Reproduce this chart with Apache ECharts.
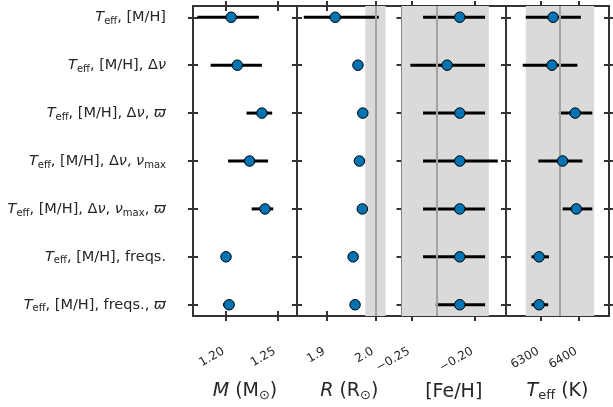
<!DOCTYPE html>
<html><head><meta charset="utf-8">
<script src="https://cdn.jsdelivr.net/npm/echarts@6/dist/echarts.min.js"></script>
<style>html,body{margin:0;padding:0;background:#fff}#c{width:613px;height:407px}</style>
</head><body><div id="c"></div>
<script>
// ---- data ----
const rowLabels = [
  '{it|T}{sub|eff}, [M/H]',
  '{it|T}{sub|eff}, [M/H], Δ{it|ν}',
  '{it|T}{sub|eff}, [M/H], Δ{it|ν}, {it|ϖ}',
  '{it|T}{sub|eff}, [M/H], Δ{it|ν}, {it|ν}{sub|max}',
  '{it|T}{sub|eff}, [M/H], Δ{it|ν}, {it|ν}{sub|max}, {it|ϖ}',
  '{it|T}{sub|eff}, [M/H], freqs.',
  '{it|T}{sub|eff}, [M/H], freqs., {it|ϖ}'
];
const mass   = [1.205, 1.211, 1.235, 1.223, 1.238, 1.200, 1.203];
const massLo = [1.172, 1.185, 1.220, 1.202, 1.225, 1.199, 1.197];
const massHi = [1.232, 1.235, 1.245, 1.241, 1.246, 1.201, 1.208];

const radius   = [1.917, 1.964, 1.974, 1.967, 1.973, 1.954, 1.958];
const radiusLo = [1.852, 1.962, 1.972, 1.965, 1.971, 1.952, 1.956];
const radiusHi = [2.007, 1.966, 1.976, 1.969, 1.975, 1.956, 1.960];

const feh   = [-0.212, -0.222, -0.212, -0.212, -0.212, -0.212, -0.212];
const fehLo = [-0.241, -0.251, -0.241, -0.241, -0.241, -0.241, -0.231];
const fehHi = [-0.192, -0.192, -0.192, -0.182, -0.192, -0.192, -0.192];

const teff   = [6332, 6329, 6390, 6357, 6393, 6295, 6295];
const teffLo = [6260, 6252, 6347, 6293, 6357, 6275, 6275];
const teffHi = [6405, 6396, 6435, 6409, 6435, 6321, 6319];

const massTicks = [1.20, 1.25];
const radiusTicks = [1.9, 2.0];
const fehTicks = [-0.25, -0.20];
const teffTicks = [6300, 6400];

// reference (literature) values with bands: [centre, halfwidth]
const radiusRef = [2.00, 0.021];
const fehRef = [-0.23, 0.041];
const teffRef = [6350, 90];

const axisNames = ['{it|M} (M{sub|⊙})', '{it|R} (R{sub|⊙})', '[Fe/H]', '{it|T}{sub|eff} (K)'];

// ---- layout/style ----
const FONT = 'DejaVu Sans';
const TXT = '#262626';
const FRAME = '#333';
const panels = [
  {val: mass, lo: massLo, hi: massHi, min: 1.1678, max: 1.2692, ticks: massTicks, fmt: v => v.toFixed(2), ref: null},
  {val: radius, lo: radiusLo, hi: radiusHi, min: 1.838, max: 2.054, ticks: radiusTicks, fmt: v => v.toFixed(1), ref: radiusRef},
  {val: feh, lo: fehLo, hi: fehHi, min: -0.258, max: -0.1755, ticks: fehTicks, fmt: v => (v < 0 ? '\u2212' : '') + Math.abs(v).toFixed(2), ref: fehRef},
  {val: teff, lo: teffLo, hi: teffHi, min: 6208, max: 6479, ticks: teffTicks, fmt: v => String(Math.round(v)), ref: teffRef}
];
const gridLefts = [193, 297, 401.5, 506];
const gridWidths = [104, 104.5, 104.5, 103];
const rowIdx = rowLabels.map((_, i) => i);

const grids = [], xAxes = [], yAxes = [], series = [];
const lineSty = {color: FRAME, width: 2};
const richY = {
  it: {fontStyle: 'italic', fontFamily: FONT, fontSize: 14.5, lineHeight: 18, color: TXT},
  sub: {fontFamily: FONT, fontSize: 10, lineHeight: 10, padding: [8, 0, 0, 0], color: TXT}
};
const richName = {
  it: {fontStyle: 'italic', fontFamily: FONT, fontSize: 19, lineHeight: 24, color: TXT},
  sub: {fontFamily: FONT, fontSize: 13, lineHeight: 13, padding: [10, 0, 0, 0], color: TXT}
};

panels.forEach((p, i) => {
  grids.push({left: gridLefts[i], top: 6, width: gridWidths[i], height: 310, containLabel: false, outerBoundsMode: 'none'});
  const baseX = {gridIndex: i, type: 'value', min: p.min, max: p.max, splitLine: {show: false}};
  xAxes.push(Object.assign({}, baseX, {
    position: 'bottom',
    axisLine: {show: true, onZero: false, lineStyle: lineSty},
    axisTick: {show: true, inside: false, length: 5, customValues: p.ticks, lineStyle: lineSty},
    axisLabel: {show: true, customValues: p.ticks, rotate: 30, margin: 33, padding: [0, 3, 0, 0], formatter: p.fmt,
      fontFamily: FONT, fontSize: 12, color: TXT},
    name: axisNames[i], nameLocation: 'middle', nameGap: 63,
    nameTextStyle: {fontFamily: FONT, fontSize: 19, lineHeight: 24, color: TXT, rich: richName}
  }));
  xAxes.push(Object.assign({}, baseX, {
    position: 'bottom', axisLine: {show: false, onZero: false},
    axisTick: {show: true, inside: true, length: 5, customValues: p.ticks, lineStyle: lineSty},
    axisLabel: {show: false}
  }));
  xAxes.push(Object.assign({}, baseX, {
    position: 'top', axisLine: {show: true, onZero: false, lineStyle: lineSty},
    axisTick: {show: true, inside: false, length: 5, customValues: p.ticks, lineStyle: lineSty},
    axisLabel: {show: false}
  }));
  xAxes.push(Object.assign({}, baseX, {
    position: 'top', axisLine: {show: false, onZero: false},
    axisTick: {show: true, inside: true, length: 5, customValues: p.ticks, lineStyle: lineSty},
    axisLabel: {show: false}
  }));

  const baseY = {gridIndex: i, type: 'value', min: -0.235, max: 6.235, inverse: true, splitLine: {show: false}};
  yAxes.push(Object.assign({}, baseY, {
    position: 'left', axisLine: {show: true, onZero: false, lineStyle: lineSty},
    axisTick: {show: true, inside: false, length: 5, customValues: rowIdx, lineStyle: lineSty},
    axisLabel: i === 0 ? {show: true, customValues: rowIdx, margin: 27,
      formatter: v => rowLabels[Math.round(v)],
      fontFamily: FONT, fontSize: 14.5, lineHeight: 18, color: TXT, rich: richY} : {show: false}
  }));
  yAxes.push(Object.assign({}, baseY, {
    position: 'left', axisLine: {show: false, onZero: false},
    axisTick: {show: true, inside: true, length: 5, customValues: rowIdx, lineStyle: lineSty},
    axisLabel: {show: false}
  }));
  yAxes.push(Object.assign({}, baseY, {
    position: 'right', axisLine: {show: true, onZero: false, lineStyle: lineSty},
    axisTick: {show: true, inside: false, length: 5, customValues: rowIdx, lineStyle: lineSty},
    axisLabel: {show: false}
  }));
  yAxes.push(Object.assign({}, baseY, {
    position: 'right', axisLine: {show: false, onZero: false},
    axisTick: {show: true, inside: true, length: 5, customValues: rowIdx, lineStyle: lineSty},
    axisLabel: {show: false}
  }));

  const errData = p.val.map((v, r) => [p.lo[r], p.hi[r], r]);
  const es = {
    type: 'custom', xAxisIndex: 4 * i, yAxisIndex: 4 * i, z: 3, silent: true,
    data: errData, encode: {x: [0, 1], y: 2},
    renderItem: (params, api) => {
      const a = api.coord([api.value(0), api.value(2)]);
      const b = api.coord([api.value(1), api.value(2)]);
      return {type: 'line', shape: {x1: a[0], y1: a[1], x2: b[0], y2: b[1]},
        style: {stroke: '#000', lineWidth: 3, lineCap: 'butt'}};
    }
  };
  if (p.ref) {
    const lo = Math.max(p.ref[0] - p.ref[1], p.min);
    const hi = Math.min(p.ref[0] + p.ref[1], p.max);
    es.markArea = {silent: true, itemStyle: {color: '#dadada', opacity: 1}, label: {show: false},
      data: [[{xAxis: lo}, {xAxis: hi}]]};
    es.markLine = {silent: true, symbol: 'none', label: {show: false},
      lineStyle: {color: '#a3a3a3', width: 2, type: 'solid'},
      data: [{xAxis: p.ref[0]}]};
  }
  series.push(es);
  series.push({
    type: 'scatter', xAxisIndex: 4 * i, yAxisIndex: 4 * i, z: 5, silent: true,
    data: p.val.map((v, r) => [v, r]),
    symbol: 'circle', symbolSize: 10.5,
    itemStyle: {color: '#0173B2', borderColor: '#000', borderWidth: 1, opacity: 1}
  });
});

const chart = echarts.init(document.getElementById('c'), null, {renderer: 'canvas'});
chart.setOption({
  animation: false,
  backgroundColor: '#fff',
  grid: grids, xAxis: xAxes, yAxis: yAxes, series: series
});
</script>
</body></html>
